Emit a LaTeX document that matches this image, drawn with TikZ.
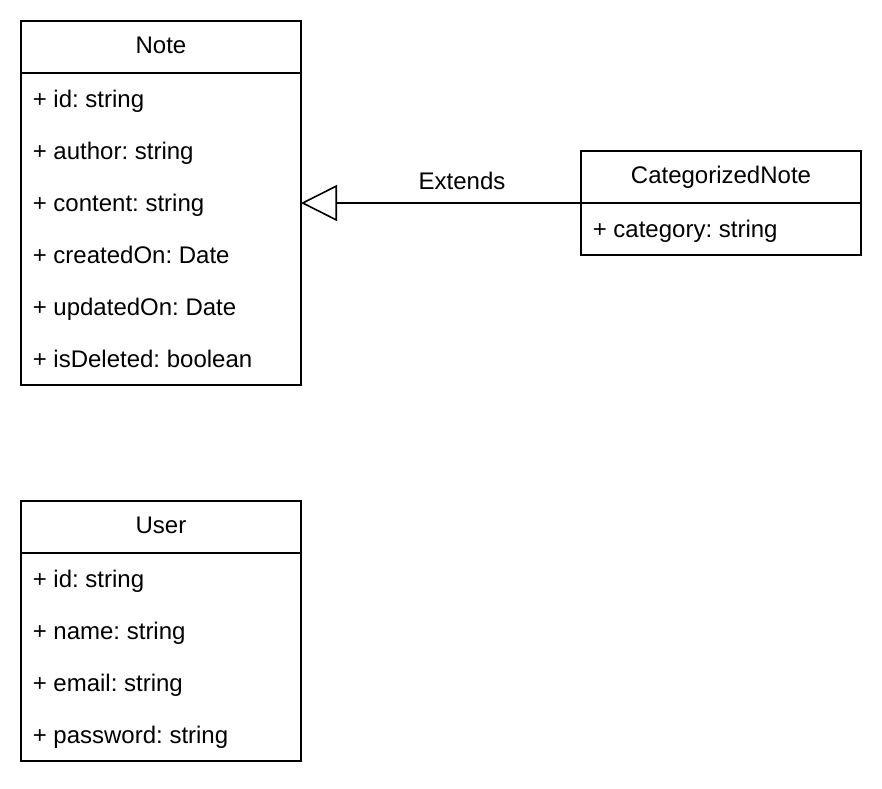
\documentclass[tikz,border=0pt]{standalone}
\usepackage{fontspec}
\setmainfont{Liberation Sans}
\frenchspacing
\usetikzlibrary{arrows.meta,positioning}

\begin{document}
\begin{tikzpicture}[x=1pt,y=-1pt,line width=1.6pt,
    class head/.style={draw,minimum width=280pt,minimum height=52pt,inner sep=0pt,outer sep=0pt,
                       font=\fontsize{24}{28}\selectfont,text height=17pt,text depth=4.4pt},
    class body/.style={draw,minimum width=280pt,inner sep=0pt,outer sep=0pt},
    attr/.style={anchor=west,inner sep=0pt,font=\fontsize{24}{28}\selectfont,text height=17pt,text depth=0pt},
    extends/.style={-{Triangle[open,length=36pt,width=36pt]}}]

  \useasboundingbox (0,0) rectangle (882,788);

  % Note
  \node[class head] (notehead) at (161,47) {Note};
  \node[class body,minimum height=312pt,below=0pt of notehead] (notebody) {};
  \foreach \a [count=\i] in {+ id: string,+ author: string,+ content: string,
                             + createdOn: Date,+ updatedOn: Date,+ isDeleted: boolean}
    \node[attr] (note-\i) at ([xshift=11pt,yshift={-(52*\i-26)*1pt}]notebody.north west) {\a};

  % CategorizedNote
  \node[class head] (cathead) at (721,177) {CategorizedNote};
  \node[class body,minimum height=52pt,below=0pt of cathead] (catbody) {};
  \node[attr] (cat-1) at ([xshift=11pt,yshift=-26pt]catbody.north west) {+ category: string};

  % User
  \node[class head] (userhead) at (161,527) {User};
  \node[class body,minimum height=208pt,below=0pt of userhead] (userbody) {};
  \foreach \a [count=\i] in {+ id: string,+ name: string,+ email: string,+ password: string}
    \node[attr] (user-\i) at ([xshift=11pt,yshift={-(52*\i-26)*1pt}]userbody.north west) {\a};

  \draw[extends] (cathead.south west) -- (cathead.south west -| notebody.east)
    node[pos=.425,yshift=22pt,font=\fontsize{24}{28}\selectfont] (extlabel) {Extends};
\end{tikzpicture}
\end{document}
